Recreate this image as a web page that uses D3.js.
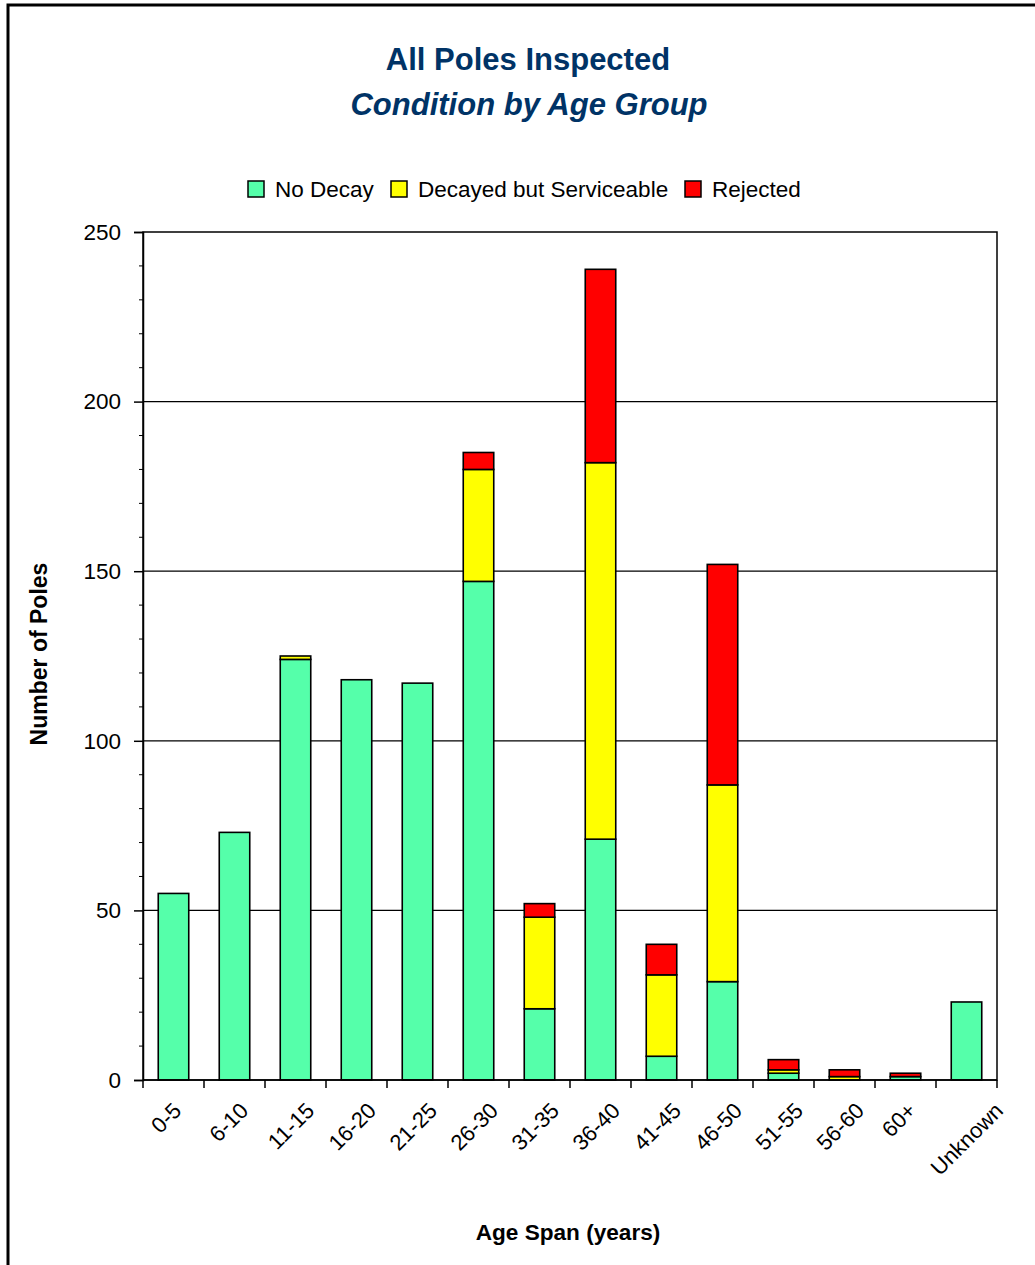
<!DOCTYPE html>
<html>
<head>
<meta charset="utf-8">
<script src="https://cdn.jsdelivr.net/npm/d3@7"></script>
<style>
  html, body { margin: 0; padding: 0; background: #fff; }
  svg { display: block; font-family: "Liberation Sans", Arial, sans-serif; }
</style>
</head>
<body>
<svg id="chart" width="1035" height="1265"></svg>
<script>
// Pole inspection counts per age group
const ageGroups = ["0-5", "6-10", "11-15", "16-20", "21-25", "26-30", "31-35",
                   "36-40", "41-45", "46-50", "51-55", "56-60", "60+", "Unknown"];
const noDecay     = [55, 73, 124, 118, 117, 147, 21, 71,  7, 29, 2, 0, 1, 23];
const decayedOk   = [ 0,  0,   1,   0,   0,  33, 27, 111, 24, 58, 1, 1, 0,  0];
const rejected    = [ 0,  0,   0,   0,   0,   5,  4, 57,  9, 65, 3, 2, 1,  0];

const seriesNames  = ["No Decay", "Decayed but Serviceable", "Rejected"];
const seriesColors = ["#55FFAA", "#FFFF00", "#FF0000"];
const yTicks = [0, 50, 100, 150, 200, 250];

const rows = ageGroups.map((g, i) => ({
  group: g, "No Decay": noDecay[i],
  "Decayed but Serviceable": decayedOk[i], "Rejected": rejected[i]
}));

const svg = d3.select("#chart");
const plot = { left: 143, right: 997, top: 232, bottom: 1080 };

// outer frame
svg.append("rect")
  .attr("x", 8).attr("y", 5).attr("width", 1100).attr("height", 1300)
  .attr("fill", "none").attr("stroke", "#000").attr("stroke-width", 3);

// titles
svg.append("text").attr("x", 528).attr("y", 70)
  .attr("text-anchor", "middle").attr("font-size", 31).attr("font-weight", "bold")
  .attr("fill", "#003366").text("All Poles Inspected");
svg.append("text").attr("x", 529).attr("y", 115)
  .attr("text-anchor", "middle").attr("font-size", 31).attr("font-weight", "bold")
  .attr("font-style", "italic").attr("fill", "#003366").text("Condition by Age Group");

const x = d3.scaleBand().domain(ageGroups).range([plot.left, plot.right])
  .paddingInner(0.5).paddingOuter(0.25);
const xOuter = d3.scaleBand().domain(ageGroups).range([plot.left, plot.right]);
const y = d3.scaleLinear().domain([0, 250]).range([plot.bottom, plot.top]);

// horizontal grid lines at major ticks
svg.append("g").selectAll("line").data(yTicks.slice(1, -1)).join("line")
  .attr("x1", plot.left).attr("x2", plot.right)
  .attr("y1", d => y(d)).attr("y2", d => y(d))
  .attr("stroke", "#000").attr("stroke-width", 1.3);

// stacked bars
const stack = d3.stack().keys(seriesNames)(rows);
svg.append("g").selectAll("g").data(stack).join("g")
  .attr("fill", (d, i) => seriesColors[i])
  .selectAll("rect").data(d => d.filter(p => p[1] - p[0] > 0)).join("rect")
  .attr("x", d => x(d.data.group))
  .attr("width", x.bandwidth())
  .attr("y", d => y(d[1]))
  .attr("height", d => y(d[0]) - y(d[1]))
  .attr("stroke", "#000").attr("stroke-width", 1.6);

// plot frame
svg.append("rect")
  .attr("x", plot.left).attr("y", plot.top)
  .attr("width", plot.right - plot.left).attr("height", plot.bottom - plot.top)
  .attr("fill", "none").attr("stroke", "#000").attr("stroke-width", 1.5);

// y axis: minor ticks every 10, major every 50
const yMinor = d3.range(0, 251, 10).filter(v => v % 50 !== 0);
svg.append("g").selectAll("line").data(yMinor).join("line")
  .attr("x1", plot.left - 4).attr("x2", plot.left)
  .attr("y1", d => y(d)).attr("y2", d => y(d))
  .attr("stroke", "#000").attr("stroke-width", 1);
const yAxis = d3.axisLeft(y).tickValues(yTicks).tickSize(9).tickPadding(13);
svg.append("g").attr("transform", `translate(${plot.left},0)`).call(yAxis)
  .call(g => g.select(".domain").attr("stroke-width", 1.5))
  .call(g => g.selectAll(".tick line").attr("stroke-width", 1.5))
  .call(g => g.selectAll("text").attr("font-size", 22.5).attr("fill", "#000")
    .attr("font-family", "Liberation Sans, Arial, sans-serif"));

// x axis: ticks between categories
const xBoundaries = ageGroups.map(g => xOuter(g)).concat([plot.right]);
svg.append("g").selectAll("line").data(xBoundaries).join("line")
  .attr("x1", d => d).attr("x2", d => d)
  .attr("y1", plot.bottom).attr("y2", plot.bottom + 8)
  .attr("stroke", "#000").attr("stroke-width", 1.5);
svg.append("line")
  .attr("x1", plot.left).attr("x2", plot.right)
  .attr("y1", plot.bottom).attr("y2", plot.bottom)
  .attr("stroke", "#000").attr("stroke-width", 1.5);

// rotated category labels; longer labels sit further right of their bar
const xLabels = svg.append("g").selectAll("text").data(ageGroups).join("text")
  .attr("text-anchor", "end")
  .attr("font-size", 22).attr("fill", "#000").text(d => d);
xLabels.each(function(d) {
  const len = this.getComputedTextLength();
  const cx = x(d) + x.bandwidth() / 2;
  d3.select(this).attr("transform",
    `translate(${cx + 0.48 * len - 6},${plot.bottom + 32}) rotate(-45)`);
});

// axis titles
svg.append("text")
  .attr("transform", `translate(47,654) rotate(-90)`)
  .attr("text-anchor", "middle").attr("font-size", 23).attr("font-weight", "bold")
  .text("Number of Poles");
svg.append("text").attr("x", 568).attr("y", 1240)
  .attr("text-anchor", "middle").attr("font-size", 22.6).attr("font-weight", "bold")
  .text("Age Span (years)");

// legend
const legendX = [248, 391, 685];
const legend = svg.append("g").selectAll("g").data(seriesNames).join("g")
  .attr("transform", (d, i) => `translate(${legendX[i]},181)`);
legend.append("rect").attr("width", 16).attr("height", 16)
  .attr("fill", (d, i) => seriesColors[i]).attr("stroke", "#000").attr("stroke-width", 1.5);
legend.append("text").attr("x", 27).attr("y", 8).attr("dy", "0.35em")
  .attr("font-size", 22.5).text(d => d);
</script>
</body>
</html>
